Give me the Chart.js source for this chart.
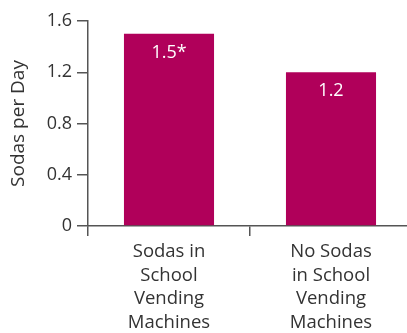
<!DOCTYPE html>
<html>
<head>
<meta charset="utf-8">
<script src="https://cdn.jsdelivr.net/npm/chart.js@4"></script>
<style>
  html, body { margin: 0; padding: 0; background: #fff; overflow: hidden; }
  #wrap { width: 407px; height: 333px; overflow: hidden; }
  #box { width: 420px; height: 333px; position: relative; }
</style>
</head>
<body>
<div id="wrap"><div id="box"><canvas id="sodaChart"></canvas></div></div>
<script>
const categories = [
  ["Sodas in", "School", "Vending", "Machines"],
  ["No Sodas", "in School", "Vending", "Machines"]
];
const sodasPerDay = [1.5, 1.2];
const valueLabels = ["1.5*", "1.2"];
const yTicks = [0, 0.4, 0.8, 1.2, 1.6];

const barColor = "#b0005a";
const inkColor = "#333333";
const axisColor = "#555555";
const fontFamily = "'Open Sans'";

// white value labels drawn inside the top of each bar
const barLabels = {
  id: "barLabels",
  afterDatasetsDraw(chart) {
    const ctx = chart.ctx;
    const meta = chart.getDatasetMeta(0);
    ctx.save();
    ctx.fillStyle = "#ffffff";
    ctx.font = "18px " + fontFamily;
    ctx.textAlign = "center";
    ctx.textBaseline = "middle";
    meta.data.forEach(function (bar, i) {
      ctx.fillText(valueLabels[i], bar.x, bar.y + 19);
    });
    ctx.restore();
  }
};

new Chart(document.getElementById("sodaChart"), {
  type: "bar",
  data: {
    labels: categories,
    datasets: [{
      data: sodasPerDay,
      backgroundColor: barColor,
      categoryPercentage: 1,
      barPercentage: 0.556
    }]
  },
  options: {
    responsive: true,
    maintainAspectRatio: false,
    animation: false,
    layout: { padding: { top: 21, right: 8, left: 0, bottom: 0 } },
    plugins: {
      legend: { display: false },
      tooltip: { enabled: false }
    },
    scales: {
      x: {
        grid: {
          display: true,
          drawOnChartArea: false,
          offset: true,
          tickLength: 10,
          color: axisColor,
          lineWidth: 1.5
        },
        border: { color: axisColor, width: 1.5 },
        ticks: {
          color: inkColor,
          font: { family: fontFamily, size: 18.5, lineHeight: 1.28 },
          padding: 4,
          maxRotation: 0
        },
        afterFit: function (scale) { scale.height = 107; }
      },
      y: {
        min: 0,
        max: 1.6,
        afterBuildTicks: function (scale) {
          scale.ticks = yTicks.map(function (v) { return { value: v }; });
        },
        grid: {
          display: true,
          drawOnChartArea: false,
          tickLength: 11,
          color: axisColor,
          lineWidth: 1.5
        },
        border: { color: axisColor, width: 1.5 },
        ticks: {
          color: inkColor,
          font: { family: fontFamily, size: 18 },
          padding: 5,
          callback: function (v) { return v === 0 ? "0" : v.toFixed(1); }
        },
        title: {
          display: true,
          text: "Sodas per Day",
          color: inkColor,
          font: { family: fontFamily, size: 19 },
          padding: { top: 7, bottom: 0 }
        },
        afterFit: function (scale) { scale.width = 88; }
      }
    }
  },
  plugins: [barLabels]
});
</script>
</body>
</html>
